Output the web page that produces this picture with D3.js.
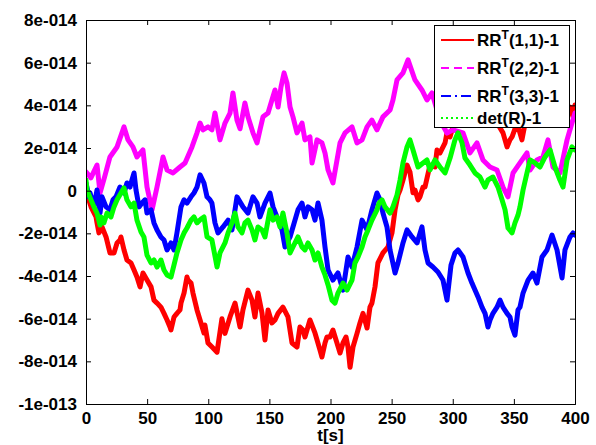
<!DOCTYPE html>
<html><head><meta charset="utf-8">
<script src="https://cdn.jsdelivr.net/npm/d3@7/dist/d3.min.js"></script>
<style>
html,body{margin:0;padding:0;background:#fff;}
svg{display:block;}
text{font-family:"Liberation Sans",Arial,sans-serif;font-weight:bold;fill:#000;}
</style></head>
<body>
<svg id="chart" width="596" height="445"></svg>
<script>
// values in units of 1e-14
const UNIT = 1e-14;
const xTicks = [0, 50, 100, 150, 200, 250, 300, 350, 400];
const yTicks = [-1e-13, -8e-14, -6e-14, -4e-14, -2e-14, 0, 2e-14, 4e-14, 6e-14, 8e-14];
const yTickLabels = ["-1e-013", "-8e-014", "-6e-014", "-4e-014", "-2e-014", "0", "2e-014", "4e-014", "6e-014", "8e-014"];
const xLabel = "t[s]";
const seriesNames = ["RR^T(1,1)-1", "RR^T(2,2)-1", "RR^T(3,3)-1", "det(R)-1"];

const rr11 = [[0,0.03],[1.6,-0.3],[4.1,-0.76],[8.2,-1.23],[9,-1.51],[10.6,-1.98],[13.1,-1.7],[16.4,-2.17],[19.6,-2.92],[22.9,-2.92],[25.4,-2.45],[27.8,-2.31],[28.6,-2.17],[31.1,-2.78],[33.5,-3.25],[36.8,-3.39],[39.3,-3.72],[41.7,-4.05],[44.2,-4.51],[46.6,-3.86],[49.9,-4.19],[53.2,-4.51],[55.6,-5.13],[58.1,-5.27],[61.3,-5.46],[63.8,-5.75],[66.3,-6.06],[68.7,-6.39],[69.5,-6.53],[72,-5.92],[74.4,-5.75],[76.9,-5.59],[77.7,-5.27],[80.2,-4.8],[82.6,-4.05],[83.4,-4.19],[85.9,-4.33],[87.5,-4.8],[90.8,-5.59],[93.3,-6.06],[96.5,-6.67],[97.3,-6.3],[99.8,-7.14],[103.1,-7.33],[107.2,-7.57],[111.2,-6.0],[113.7,-6.69],[117.8,-5.92],[121.9,-5.27],[126,-6.39],[128.4,-5.59],[132.5,-4.66],[135.8,-5.13],[138.2,-5.92],[140.7,-4.8],[144,-5.75],[146.4,-7.0],[148.9,-5.59],[152.1,-6.2],[154.6,-6.06],[157.1,-5.75],[161.1,-5.46],[165.2,-5.92],[168.5,-7.14],[172.6,-7.33],[175,-6.39],[177.5,-6.53],[179.1,-6.86],[183.2,-6.06],[187.3,-6.67],[189,-7.0],[191.4,-7.47],[193,-7.8],[195.5,-7.14],[197.1,-6.86],[199.6,-6.86],[202,-6.53],[205.3,-7.14],[207.8,-7.61],[210.2,-7.14],[212.7,-6.86],[214.3,-7.33],[216,-8.28],[218.4,-7.33],[221.7,-6.69],[224.1,-6.2],[226.6,-5.75],[229.9,-6.44],[232.3,-5.46],[233.9,-5.27],[236.4,-4.51],[238.8,-3.39],[242.9,-2.92],[247,-2.64],[250.3,-1.98],[252.8,-0.9],[255.2,-0.2],[256.9,0.03],[259.3,0.5],[262.6,1.2],[265,0.88],[267.5,-0.1],[269.1,0.03],[271.6,-0.43],[273.2,-0.29],[275.7,0.17],[277.3,0.17],[281.4,1.2],[285.5,1.11],[287.1,1.91],[289.6,1.77],[293.7,2.24],[295.3,2.71],[297.8,2.52],[300.2,2.99],[306,3.5],[314,3.8],[322,3.4],[330.5,3.7],[337,3.1],[341.1,2.71],[344.4,2.05],[346.8,2.38],[348.5,2.52],[352.6,3.17],[356.6,2.38],[359,3.1],[367,3.7],[375.5,3.4],[383.6,3.9],[390,3.55],[395.9,3.92],[398.4,3.46],[400,4.02]];

const rr22 = [[0,0.88],[4,0.6],[9,1.2],[11.5,-0.1],[15,0.6],[19.6,1.58],[25.4,2.05],[31.1,2.99],[34.4,2.38],[38.4,2.05],[41.7,1.58],[46.6,1.91],[49.9,0.17],[54,-0.9],[58.1,0.17],[63,1.58],[66.3,0.97],[71.2,0.83],[76.9,1.11],[81,1.3],[86.7,2.05],[90.8,2.71],[93.3,3.17],[95.7,2.85],[99.8,2.99],[103,2.85],[105.5,3.64],[109.6,2.38],[113.7,3.17],[117.8,3.64],[120.2,4.58],[123.5,3.31],[126,2.9],[130,4.11],[132.5,3.46],[136.6,2.71],[139.9,2.24],[142.3,2.85],[144.8,3.46],[148.9,3.64],[152.1,4.25],[154.6,4.72],[157.1,3.92],[159.5,4.86],[162,5.52],[164.4,5.05],[166.9,3.92],[169.3,3.46],[172.6,2.71],[176.7,3.17],[179.1,2.38],[183.2,2.52],[184.9,1.3],[189,2.38],[193,2.24],[195.5,1.77],[198,0.97],[202,0.36],[207.8,2.24],[211.9,2.71],[217.6,2.99],[221.7,2.24],[225.8,2.38],[229.9,2.99],[233.9,3.31],[238,2.85],[242.9,3.46],[248.7,3.78],[251.1,4.25],[254.4,5.19],[259.3,5.52],[263.4,6.13],[269.1,5.19],[274.8,4.72],[278.9,4.25],[283,4.58],[289.6,3.3],[295.3,2.7],[300.2,2.85],[308.4,2.71],[314.1,1.77],[319.8,2.24],[324.7,1.44],[330.5,1.11],[336.2,0.97],[341.1,0.17],[345.2,-0.29],[349.3,0.83],[355,1.3],[360.7,1.77],[363.2,0.97],[368.9,1.44],[373.8,1.58],[377.9,2.38],[382,1.11],[387.7,0.83],[393.5,2.38],[397.5,3.17],[400,3.64]];

const rr33 = [[0,0.36],[2.5,-0.29],[3.3,-0.11],[6.5,-0.76],[9,0.03],[10.6,-0.58],[11.5,-1.05],[13.1,-0.29],[16.4,-0.76],[19.6,-0.9],[22.1,-0.43],[24.5,-0.29],[27.8,0.17],[31.1,-0.11],[33.5,0.36],[36,0.17],[37.6,0.5],[39.3,0.83],[40.9,0.03],[43.4,-0.76],[45.8,-0.58],[48.3,-0.43],[49.9,-1.05],[53.2,-0.9],[55.6,-1.51],[58.1,-1.84],[61.3,-2.17],[63.8,-2.31],[66.3,-2.78],[69.5,-2.45],[72,-2.78],[74.4,-1.98],[77.7,-0.76],[80.2,-0.43],[82.6,-0.58],[85.9,-0.29],[88.3,-0.11],[90.8,0.17],[93.3,0.74],[96.5,0.36],[99,-0.29],[101.4,-0.43],[103,-0.58],[105.5,-1.51],[108,-1.98],[112.1,-1.7],[116.2,-1.38],[119.4,-1.84],[123.5,-0.29],[128.4,-0.76],[132.5,-1.05],[136.6,-0.29],[139.9,-0.58],[142.3,-1.23],[146.4,-0.58],[150.5,-0.11],[153,-0.76],[156.2,-1.23],[160.3,-1.84],[162.8,-2.64],[166.9,-2.17],[169.3,-1.7],[173.4,-0.9],[176.7,-0.58],[179.1,-1.23],[181.6,-0.76],[184.9,-0.9],[187.3,-1.38],[189.8,-0.58],[193,-1.38],[195.5,-2.64],[198,-3.72],[202,-4.19],[206.1,-3.86],[210.2,-4.66],[214.3,-3.11],[217.6,-3.58],[221.7,-2.64],[225.8,-1.38],[229.9,-1.84],[233.9,-0.9],[238,-0.11],[240.5,-0.43],[242.9,-1.05],[246.2,-1.7],[248.7,-2.78],[252.8,-3.86],[255.2,-3.39],[259.3,-2.45],[262.6,-1.84],[266.7,-2.17],[270.8,-2.45],[274.8,-1.7],[277.3,-2.78],[279.8,-3.39],[283.8,-3.58],[287.9,-3.81],[292,-4.19],[295.3,-5.13],[298.6,-3.48],[301.8,-2.92],[304.3,-2.78],[308.4,-3.11],[312.5,-3.86],[315.7,-4.33],[318.2,-4.66],[320.7,-4.98],[323.9,-5.46],[326.4,-5.75],[328.8,-6.39],[330.5,-6.06],[332.9,-5.75],[336.2,-5.46],[338.7,-5.13],[341.1,-5.46],[344.4,-5.75],[346.8,-5.92],[348.5,-6.39],[350.9,-6.77],[353.4,-5.59],[355,-5.46],[357.5,-4.8],[361.6,-4.19],[365.6,-3.86],[368.9,-4.33],[373,-3.11],[377.1,-2.78],[381.2,-2.08],[385.3,-2.78],[389.4,-4.09],[391.8,-2.78],[395.9,-2.17],[398.4,-1.98],[400,-2.08]];

const detR = [[0,0.5],[0.8,0.03],[4.1,-0.43],[6.5,-0.76],[9,-1.05],[11.5,-1.61],[12.3,-1.23],[14.7,-1.51],[17.2,-1.05],[20.4,-1.23],[22.9,-0.76],[25.4,-0.43],[28.6,-0.11],[31.1,0.13],[33.5,-0.43],[36.8,-0.76],[39.3,-0.58],[41.7,-1.38],[45,-1.94],[47.4,-2.17],[49.9,-3.02],[53.2,-3.39],[55.6,-3.25],[58.1,-3.58],[61.3,-3.25],[63.8,-3.72],[66.3,-3.95],[69.5,-4.05],[72,-3.48],[74.4,-2.92],[77.7,-2.31],[80.2,-1.98],[82.6,-1.75],[85.9,-1.38],[88.3,-1.23],[90.8,-1.51],[94.1,-1.33],[96.5,-1.23],[99,-2.17],[103,-2.31],[107.2,-3.58],[109.6,-2.92],[113.7,-2.45],[116.2,-1.98],[119.4,-1.51],[121.9,-1.05],[124.3,-1.7],[127.6,-1.98],[130,-1.51],[132.5,-1.38],[135.8,-1.84],[138.2,-2.31],[140.7,-1.7],[144,-1.84],[146.4,-2.17],[150.5,-0.9],[153,-1.38],[156.2,-1.23],[158.7,-1.7],[161.1,-1.05],[164.4,-1.98],[166.9,-2.92],[169.3,-2.64],[173.4,-2.17],[176.7,-2.64],[179.1,-2.78],[181.6,-2.45],[184.9,-2.78],[187.3,-3.25],[189.8,-2.92],[193,-3.58],[195.5,-3.95],[198,-4.42],[201.2,-5.13],[203.7,-5.27],[206.1,-4.8],[210.2,-4.33],[213.5,-4.66],[217.6,-4.19],[220,-3.39],[222.5,-3.11],[225.8,-2.64],[228.2,-2.17],[230.7,-1.84],[233.9,-1.38],[238,-0.9],[239.7,-0.58],[242.1,-0.43],[244.6,-0.76],[248.7,-1.05],[251.1,-0.76],[254.4,-0.2],[256.9,0.5],[259.3,1.3],[262.6,2.05],[265,2.38],[267.5,1.91],[271.6,1.11],[275.7,1.3],[278.9,1.44],[281.4,0.97],[285.5,1.44],[289.6,1.11],[293.7,0.83],[297.8,1.53],[301.8,2.38],[304.3,2.71],[307.6,2.24],[310,1.53],[314.1,1.2],[318.2,0.83],[322.3,0.64],[326.4,0.17],[328.8,0.5],[332.9,0.64],[337,0.17],[340.3,-0.43],[342.8,-0.9],[345.2,-1.75],[348.5,-1.98],[350.9,-1.51],[353.4,-1.14],[355,-0.76],[357.5,0.03],[360.7,0.83],[363.2,1.44],[367.3,1.3],[371.4,1.11],[375.5,1.58],[379.6,1.91],[383.6,1.11],[387.7,0.5],[390.2,0.17],[393.5,1.44],[397.5,2.05],[400,1.91]];

const seriesData = [rr11, rr22, rr33, detR];
const seriesColors = ["#ff0000", "#ff00ff", "#0000ff", "#00ff00"];
const seriesDash = [null, "8,5", "10,4,2,4", "2,3"];

const svg = d3.select("#chart");
const L = 86, R = 575, T = 20, B = 404;
const x = d3.scaleLinear().domain([0, 400]).range([L, R]);
const y = d3.scaleLinear().domain([-1e-13, 8e-14]).range([B, T]);

svg.append("defs").append("clipPath").attr("id", "clip")
  .append("rect").attr("x", L).attr("y", T).attr("width", R - L).attr("height", B - T);

const line = d3.line().x(d => x(d[0])).y(d => y(d[1] * UNIT));
const plot = svg.append("g").attr("clip-path", "url(#clip)");
seriesData.forEach((s, i) => {
  plot.append("path").datum(s)
    .attr("d", line)
    .attr("fill", "none")
    .attr("stroke", seriesColors[i])
    .attr("stroke-width", 5)
    .attr("stroke-linejoin", "round")
    .attr("stroke-linecap", "round");
});

// axes (MATLAB style: ticks inward, box)
const fs = 17;
const axB = svg.append("g").attr("transform", `translate(0,${B})`)
  .call(d3.axisBottom(x).tickValues(xTicks).tickSize(-5).tickPadding(8).tickFormat(d3.format("d")));
const axT = svg.append("g").attr("transform", `translate(0,${T})`)
  .call(d3.axisTop(x).tickValues(xTicks).tickSize(-5).tickFormat(""));
const axL = svg.append("g").attr("transform", `translate(${L},0)`)
  .call(d3.axisLeft(y).tickValues(yTicks).tickSize(-5).tickPadding(9).tickFormat((d, i) => yTickLabels[i]));
const axR = svg.append("g").attr("transform", `translate(${R},0)`)
  .call(d3.axisRight(y).tickValues(yTicks).tickSize(-5).tickFormat(""));
[axB, axT, axL, axR].forEach(g => {
  g.selectAll(".domain").attr("stroke", "#000").attr("stroke-width", 1);
  g.selectAll(".tick line").attr("stroke", "#000");
  g.selectAll("text").style("font-size", fs + "px").style("font-family", "'Liberation Sans',Arial,sans-serif").style("font-weight", "bold").attr("fill", "#000");
});
axB.selectAll("text").attr("dy", "0.71em");

svg.append("text").attr("x", x(200)).attr("y", 441).attr("text-anchor", "middle")
  .style("font-size", fs + "px").text(xLabel);

// legend
const lg = svg.append("g");
lg.append("rect").attr("x", 434.5).attr("y", 25.5).attr("width", 135).attr("height", 102)
  .attr("fill", "#fff").attr("stroke", "#000").attr("stroke-width", 1);
const rowY = [40, 68, 96, 118];
seriesNames.forEach((name, i) => {
  lg.append("line").attr("x1", 441).attr("x2", 474).attr("y1", rowY[i]).attr("y2", rowY[i])
    .attr("stroke", seriesColors[i]).attr("stroke-width", 2)
    .attr("stroke-dasharray", seriesDash[i]);
  const t = lg.append("text").attr("x", 477).attr("y", rowY[i] + 6).style("font-size", fs + "px");
  if (name.includes("^")) {
    const [a, rest] = name.split("^");
    t.append("tspan").text(a);
    t.append("tspan").attr("dy", -7).style("font-size", "12px").text(rest[0]);
    t.append("tspan").attr("dy", 7).text(rest.slice(1));
  } else {
    t.text(name);
  }
});
</script>
</body></html>
